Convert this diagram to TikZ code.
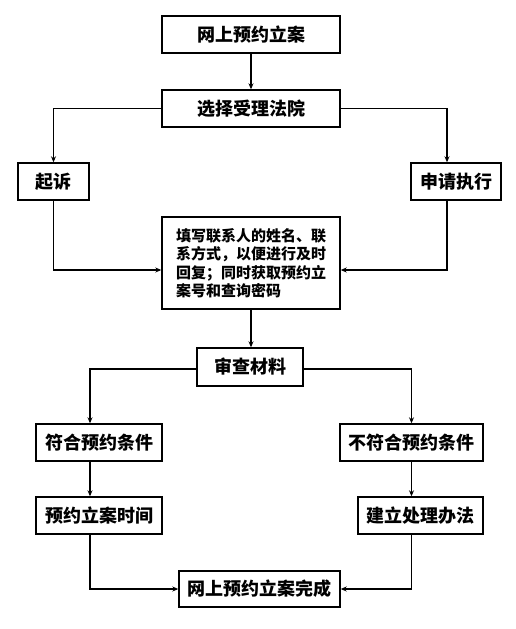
\documentclass[tikz,border=0pt]{standalone}
\usepackage{fontspec}
\newfontfamily\cjk{Noto Sans CJK SC}
\usetikzlibrary{arrows.meta}
\begin{document}
\begin{tikzpicture}[x=1pt,y=-1pt,
  box/.style={draw, line width=1.4pt, inner sep=0pt, font=\cjk\bfseries\fontsize{18}{20}\selectfont},
  conn/.style={line width=1.2pt, -{Stealth[length=6pt,width=5pt]}},
  plain/.style={line width=1.2pt}]
\useasboundingbox (0,0) rectangle (516,629);
\fill[white] (0,0) rectangle (516,629);
\node[box, minimum width=178pt, minimum height=37pt] (b1) at (251,34.5) {网上预约立案};
\node[box, minimum width=178pt, minimum height=37pt] (b2) at (251,108.5) {选择受理法院};
\node[box, minimum width=71pt, minimum height=37pt] (qs) at (53.5,181.5) {起诉};
\node[box, minimum width=90pt, minimum height=37pt] (sq) at (456,181.5) {申请执行};
\node[box, minimum width=178pt, minimum height=92pt, align=left,
  font=\cjk\bfseries\fontsize{15}{18.5}\selectfont] (fill) at (251,263) {填写联系人的姓名、联\\系方式，以便进行及时\\回复；同时获取预约立\\案号和查询密码\hphantom{联系人}};
\node[box, minimum width=106pt, minimum height=38pt] (sc) at (250,367) {审查材料};
\node[box, minimum width=126pt, minimum height=37pt] (fh) at (99,442.5) {符合预约条件};
\node[box, minimum width=143pt, minimum height=37pt] (bfh) at (411.5,442.5) {不符合预约条件};
\node[box, minimum width=126pt, minimum height=37pt] (sj) at (99,515.5) {预约立案时间};
\node[box, minimum width=125pt, minimum height=37pt] (bf) at (420.5,515.5) {建立处理办法};
\node[box, minimum width=161pt, minimum height=36pt] (wc) at (259.5,589) {网上预约立案完成};

\draw[conn] (b1) -- (b2);
\draw[conn] (b2.west) -| (qs.north);
\draw[conn] (b2.east) -| ([xshift=-9pt]sq.north);
\draw[conn] (qs.south) |- ([yshift=-7pt]fill.west);
\draw[conn] ([xshift=-9pt]sq.south) |- ([yshift=-7pt]fill.east);
\draw[conn] ([xshift=0pt]fill.south) -- ([xshift=1pt]sc.north);
\draw[conn] ([yshift=-2pt]sc.west) -| ([xshift=-9pt]fh.north);
\draw[conn] ([yshift=-2pt]sc.east) -| (bfh.north);
\draw[conn] ([xshift=-9pt]fh.south) -- ([xshift=-9pt]sj.north);
\draw[conn] (bfh.south) -- ([xshift=-9pt]bf.north);
\draw[conn] ([xshift=-9pt]sj.south) |- (wc.west);
\draw[conn] ([xshift=-9pt]bf.south) |- (wc.east);
\end{tikzpicture}
\end{document}
